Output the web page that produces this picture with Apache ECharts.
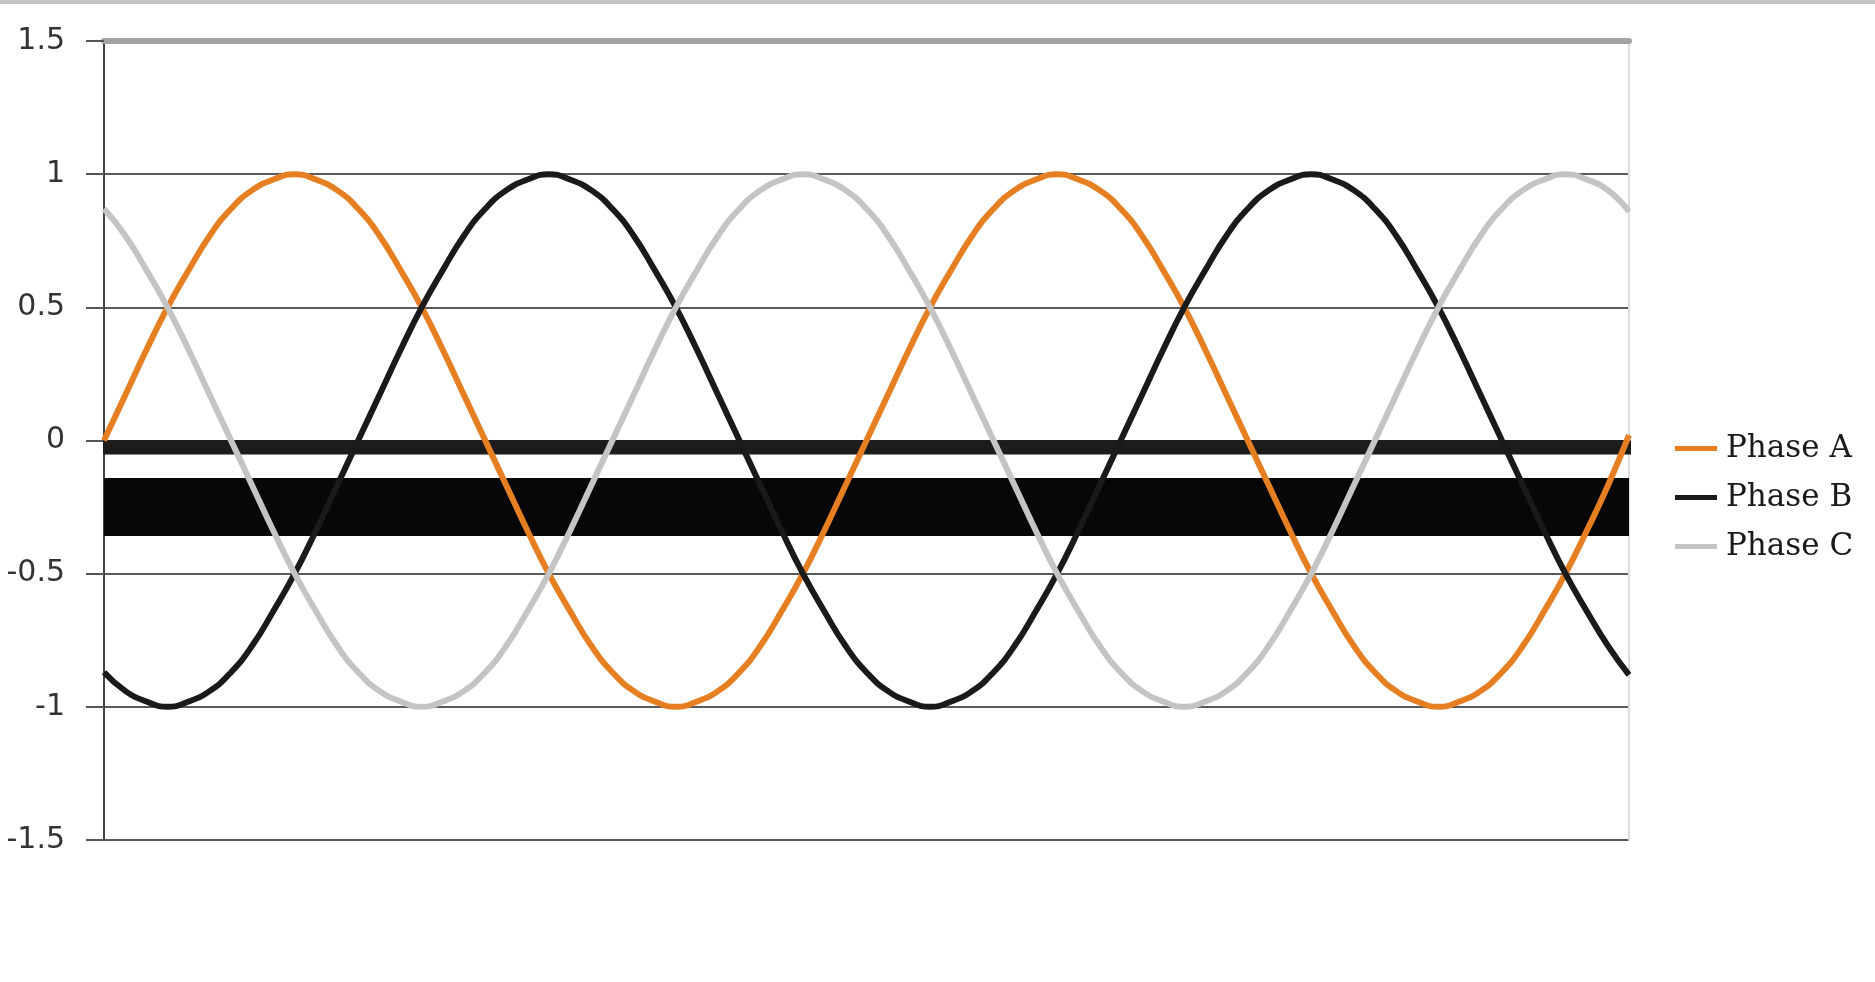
<!DOCTYPE html>
<html>
<head>
<meta charset="utf-8">
<title>Phase A / B / C</title>
<script src="https://cdn.jsdelivr.net/npm/echarts@6/dist/echarts.min.js"></script>
<style>
  html, body { margin: 0; padding: 0; background: #fff; overflow: hidden; }
  #chart { position: absolute; left: 0; top: 0; width: 1875px; height: 982px; }
  #topRule { position: absolute; left: 0; top: 0; width: 1875px; height: 4px; background: #c4c4c4; z-index: 2; }
</style>
</head>
<body>
<div id="chart"></div>
<div id="topRule"></div>
<script>
// ─── Data (10° steps over two cycles) ───

const degrees = [
  0, 10, 20, 30, 40, 50, 60, 70, 80, 90, 100, 110,
  120, 130, 140, 150, 160, 170, 180, 190, 200, 210, 220, 230,
  240, 250, 260, 270, 280, 290, 300, 310, 320, 330, 340, 350,
  360, 370, 380, 390, 400, 410, 420, 430, 440, 450, 460, 470,
  480, 490, 500, 510, 520, 530, 540, 550, 560, 570, 580, 590,
  600, 610, 620, 630, 640, 650, 660, 670, 680, 690, 700, 710, 720
];

const phaseA = [
  0, 0.17, 0.34, 0.5, 0.64, 0.77, 0.87, 0.94, 0.98, 1, 0.98, 0.94,
  0.87, 0.77, 0.64, 0.5, 0.34, 0.17, 0, -0.17, -0.34, -0.5, -0.64, -0.77,
  -0.87, -0.94, -0.98, -1, -0.98, -0.94, -0.87, -0.77, -0.64, -0.5, -0.34, -0.17,
  0, 0.17, 0.34, 0.5, 0.64, 0.77, 0.87, 0.94, 0.98, 1, 0.98, 0.94,
  0.87, 0.77, 0.64, 0.5, 0.34, 0.17, 0, -0.17, -0.34, -0.5, -0.64, -0.77,
  -0.87, -0.94, -0.98, -1, -0.98, -0.94, -0.87, -0.77, -0.64, -0.5, -0.34, -0.17, 0.02
];

const phaseB = [
  -0.87, -0.94, -0.98, -1, -0.98, -0.94, -0.87, -0.77, -0.64, -0.5, -0.34, -0.17,
  0, 0.17, 0.34, 0.5, 0.64, 0.77, 0.87, 0.94, 0.98, 1, 0.98, 0.94,
  0.87, 0.77, 0.64, 0.5, 0.34, 0.17, 0, -0.17, -0.34, -0.5, -0.64, -0.77,
  -0.87, -0.94, -0.98, -1, -0.98, -0.94, -0.87, -0.77, -0.64, -0.5, -0.34, -0.17,
  0, 0.17, 0.34, 0.5, 0.64, 0.77, 0.87, 0.94, 0.98, 1, 0.98, 0.94,
  0.87, 0.77, 0.64, 0.5, 0.34, 0.17, 0, -0.17, -0.34, -0.5, -0.64, -0.77, -0.88
];

const phaseC = [
  0.87, 0.77, 0.64, 0.5, 0.34, 0.17, 0, -0.17, -0.34, -0.5, -0.64, -0.77,
  -0.87, -0.94, -0.98, -1, -0.98, -0.94, -0.87, -0.77, -0.64, -0.5, -0.34, -0.17,
  0, 0.17, 0.34, 0.5, 0.64, 0.77, 0.87, 0.94, 0.98, 1, 0.98, 0.94,
  0.87, 0.77, 0.64, 0.5, 0.34, 0.17, 0, -0.17, -0.34, -0.5, -0.64, -0.77,
  -0.87, -0.94, -0.98, -1, -0.98, -0.94, -0.87, -0.77, -0.64, -0.5, -0.34, -0.17,
  0, 0.17, 0.34, 0.5, 0.64, 0.77, 0.87, 0.94, 0.98, 1, 0.98, 0.94, 0.86
];

// the crammed, unreadable x-axis labels of the original form a dark smear
// sitting at about -0.25 under the zero line; ECharts 6 paints axis labels
// above series, so it is drawn as a wide line behind the phases instead
const smearDegrees = [0, 720];
const smearLevel = [-0.25, -0.25];

const seriesNames = ['Phase A', 'Phase B', 'Phase C'];
const seriesColors = ['#e67e22', '#1a1a1a', '#c4c4c4'];

// y axis ticks: -1.5 … 1.5 every 0.5
const yMin = -1.5;
const yMax = 1.5;
const yStep = 0.5;

// x axis: degrees, one tick per degree (crammed, as in the original)
const xMin = 0;
const xMax = 720;
const xTickStep = 1;

// ─── Chart ──────────────────────────────────────────

const chart = echarts.init(document.getElementById('chart'));

const toPairs = (xs, values) => xs.map((d, i) => [d, values[i]]);

chart.setOption({
  animation: false,
  backgroundColor: '#ffffff',
  grid: { left: 104, right: 246, top: 41, bottom: 142, containLabel: false, outerBoundsMode: 'none' },
  legend: {
    data: seriesNames,
    orient: 'vertical',
    left: 1670,
    top: 428,
    itemGap: 18,
    itemWidth: 42,
    itemHeight: 5,
    icon: 'rect',
    textStyle: {
      fontFamily: 'DejaVu Serif',
      fontSize: 31,
      lineHeight: 30,
      color: '#1a1a1a',
      padding: [0, 0, 0, 4]
    }
  },
  xAxis: [
    {
      type: 'value',
      min: xMin,
      max: xMax,
      interval: xTickStep,
      axisLine: { show: true, onZero: true, lineStyle: { color: '#222', width: 2 } },
      axisTick: { show: true, length: 14, lineStyle: { color: '#1c1c1c', width: 3 } },
      axisLabel: { show: false },
      splitLine: { show: false }
    },
    {
      // thick grey rule along the top of the plot
      type: 'value',
      position: 'top',
      min: xMin,
      max: xMax,
      axisLine: { show: true, onZero: false, lineStyle: { color: '#a3a3a3', width: 6 } },
      axisTick: { show: false },
      axisLabel: { show: false },
      splitLine: { show: false }
    }
  ],
  yAxis: [
    {
      type: 'value',
      min: yMin,
      max: yMax,
      interval: yStep,
      position: 'left',
      axisLine: { show: true, onZero: false, lineStyle: { color: '#444', width: 2 } },
      axisTick: { show: true, length: 18, lineStyle: { color: '#555', width: 2 } },
      axisLabel: { fontFamily: 'DejaVu Sans', fontSize: 30, color: '#333', margin: 39 },
      splitLine: { show: true, lineStyle: { color: '#5a5a5a', width: 2 } }
    },
    {
      // faint right edge of the plot
      type: 'value',
      min: yMin,
      max: yMax,
      interval: yStep,
      position: 'right',
      axisLine: { show: true, onZero: false, lineStyle: { color: '#dcdcdc', width: 2 } },
      axisTick: { show: false },
      axisLabel: { show: false },
      splitLine: { show: false }
    }
  ],
  series: [
    {
      name: 'axis labels',
      type: 'line',
      z: 1,
      silent: true,
      showSymbol: false,
      clip: false,
      lineStyle: { color: '#070707', width: 58, cap: 'butt' },
      data: toPairs(smearDegrees, smearLevel)
    },
    ...[phaseA, phaseB, phaseC].map((values, i) => ({
      name: seriesNames[i],
      type: 'line',
      z: 3,
      smooth: true,
      showSymbol: false,
      color: seriesColors[i],
      lineStyle: { color: seriesColors[i], width: 6 },
      data: toPairs(degrees, values)
    }))
  ]
});

window.addEventListener('resize', () => chart.resize());
</script>
</body>
</html>
